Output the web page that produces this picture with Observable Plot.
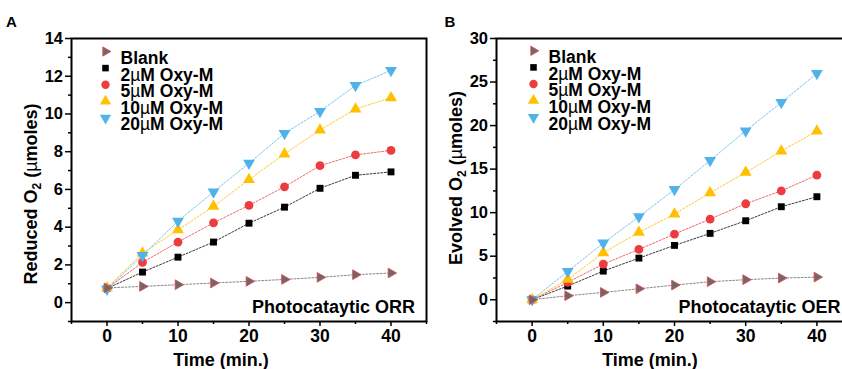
<!DOCTYPE html>
<html>
<head>
<meta charset="utf-8">
<script src="https://cdn.jsdelivr.net/npm/d3@7"></script>
<script src="https://cdn.jsdelivr.net/npm/@observablehq/plot@0.6"></script>
<style>
  body { margin: 0; background: white; }
  #wrap { position: relative; width: 842px; height: 369px; overflow: hidden; background: white; }
  #wrap svg { position: absolute; top: 0; }
</style>
</head>
<body>
<div id="wrap"></div>
<script>
// ---------- data ----------
const time = [0, 5, 10, 15, 20, 25, 30, 35, 40];
const seriesNames = ["Blank", "2µM Oxy-M", "5µM Oxy-M", "10µM Oxy-M", "20µM Oxy-M"];

// Panel A: Photocatalytic ORR, reduced O2 (µmoles)
const orrBlank = [0.78, 0.86, 0.95, 1.04, 1.13, 1.23, 1.34, 1.48, 1.57];
const orr2uM   = [0.75, 1.62, 2.41, 3.21, 4.21, 5.06, 6.06, 6.75, 6.93];
const orr5uM   = [0.75, 2.13, 3.21, 4.23, 5.16, 6.14, 7.26, 7.83, 8.07];
const orr10uM  = [0.78, 2.62, 3.86, 5.10, 6.52, 7.88, 9.15, 10.26, 10.86];
const orr20uM  = [0.72, 2.50, 4.32, 5.87, 7.39, 8.97, 10.14, 11.51, 12.31];

// Panel B: Photocatalytic OER, evolved O2 (µmoles)
const oerBlank = [0, 0.46, 0.84, 1.26, 1.68, 2.07, 2.30, 2.49, 2.60];
const oer2uM   = [0, 1.57, 3.29, 4.78, 6.24, 7.62, 9.07, 10.68, 11.83];
const oer5uM   = [0, 1.99, 4.10, 5.78, 7.54, 9.26, 11.02, 12.51, 14.31];
const oer10uM  = [0, 2.33, 5.40, 7.73, 9.84, 12.28, 14.62, 17.07, 19.37];
const oer20uM  = [0, 3.25, 6.51, 9.53, 12.66, 15.99, 19.40, 22.65, 25.98];

// ticks
const xTicks = [0, 10, 20, 30, 40];
const xMinorTicks = [-5, 5, 15, 25, 35, 45];
const yTicksA = [0, 2, 4, 6, 8, 10, 12, 14];
const yMinorTicksA = [-1, 1, 3, 5, 7, 9, 11, 13];
const yTicksB = [0, 5, 10, 15, 20, 25, 30];
const yMinorTicksB = [-2.5, 2.5, 7.5, 12.5, 17.5, 22.5, 27.5];

// ---------- styles ----------
const FONT = "'Liberation Sans', Arial, Helvetica, sans-serif";
const tri = (angle) => ({
  draw(ctx, size) {
    const s = Math.sqrt(4 * size / Math.sqrt(3));
    const R = s / Math.sqrt(3);
    const pts = [[R, 0], [-R / 2, s / 2], [-R / 2, -s / 2]];
    const a = angle * Math.PI / 180;
    pts.forEach(([x, y], i) => {
      const px = x * Math.cos(a) - y * Math.sin(a);
      const py = x * Math.sin(a) + y * Math.cos(a);
      i ? ctx.lineTo(px, py) : ctx.moveTo(px, py);
    });
    ctx.closePath();
  }
});
const styles = [
  {symbol: tri(0),   fill: "#6a6a6a", stroke: "#e5484d", line: "#8a8a8a", r: 3.6},
  {symbol: "square", fill: "#000000", stroke: "none",    line: "#3a3a3a", r: 3.9},
  {symbol: "circle", fill: "#ee3b3f", stroke: "none",    line: "#f06a6a", r: 4.4},
  {symbol: tri(-90), fill: "#ffc000", stroke: "none",    line: "#ffcb33", r: 4.4},
  {symbol: tri(90),  fill: "#4fb3ea", stroke: "none",    line: "#7cc6ef", r: 4.4}
];

function tidy(arrays) {
  const rows = [];
  arrays.forEach((vals, si) => vals.forEach((v, i) => rows.push({series: si, t: time[i], v})));
  return rows;
}

function makePanel(cfg) {
  const data = tidy(cfg.arrays);
  const marks = [];
  styles.forEach((st, si) => {
    marks.push(Plot.line(data.filter(d => d.series === si), {
      x: "t", y: "v", stroke: st.line, strokeWidth: 1, strokeDasharray: "2,1.6"
    }));
  });
  [1, 2, 3, 4, 0].forEach(si => {
    const st = styles[si];
    marks.push(Plot.dot(data.filter(d => d.series === si), {
      x: "t", y: "v", symbol: st.symbol, r: st.r, fill: st.fill,
      stroke: st.stroke, strokeWidth: st.stroke === "none" ? 0 : 0.9
    }));
  });
  styles.forEach((st, si) => {
    marks.push(Plot.dot([seriesNames[si]], {
      frameAnchor: "top-left", dx: cfg.legendDx, dy: cfg.legendDy + 16.6 * si,
      symbol: st.symbol, r: st.r * 0.95, fill: st.fill,
      stroke: st.stroke, strokeWidth: st.stroke === "none" ? 0 : 0.9
    }));
    marks.push(Plot.text([seriesNames[si]], {
      text: d => d, frameAnchor: "top-left", dx: cfg.legendDx + 15, dy: cfg.legendDy + 16.6 * si,
      textAnchor: "start", fontSize: 17.5, fontWeight: "bold", fill: "black"
    }));
  });
  marks.push(Plot.axisX({ticks: xTicks, tickSize: 5, tickPadding: 3, fontSize: 17.5,
    fontWeight: "bold", label: null, strokeWidth: 1.5, tickFormat: d3.format("d")}));
  marks.push(Plot.axisX({ticks: xMinorTicks, tickSize: 3, text: null, label: null, strokeWidth: 1.5}));
  marks.push(Plot.axisY({ticks: cfg.yTicks, tickSize: 6, tickPadding: 2.5, fontSize: 16.5,
    fontWeight: "bold", label: null, strokeWidth: 1.5, tickFormat: d3.format("d")}));
  marks.push(Plot.axisY({ticks: cfg.yMinorTicks, tickSize: 3, text: null, label: null, strokeWidth: 1.5}));
  marks.push(Plot.frame({stroke: "black", strokeWidth: 2}));

  const svg = Plot.plot({
    width: cfg.width, height: 369,
    marginLeft: cfg.marginLeft, marginRight: cfg.marginRight,
    marginTop: 38, marginBottom: 48,
    style: {fontFamily: FONT, background: "transparent", overflow: "visible", color: "black"},
    x: {domain: [-5, 45]},
    y: {domain: cfg.yDomain},
    marks
  });
  svg.style.left = cfg.left + "px";

  const s = d3.select(svg);
  s.selectAll("text").each(function () {
    const t = this.textContent;
    if (t.includes("µ") && this.childElementCount === 0) {
      const parts = t.split("µ");
      const el = d3.select(this);
      el.text(null);
      el.append("tspan").text(parts[0]);
      el.append("tspan").attr("font-weight", "normal").text("µ");
      el.append("tspan").text(parts[1]);
    }
  });
  s.append("text").attr("x", cfg.letterX).attr("y", 26.7)
    .attr("font-size", 15).attr("font-weight", "bold").attr("font-family", FONT).text(cfg.letter);
  s.append("text").attr("x", cfg.xTitleX).attr("y", 365.5).attr("text-anchor", "middle")
    .attr("font-size", 18).attr("font-weight", "bold").attr("font-family", FONT).text("Time (min.)");
  const yt = s.append("text")
    .attr("transform", `translate(${cfg.yTitleX},${cfg.yTitleY}) rotate(-90)`)
    .attr("text-anchor", "middle").attr("font-size", 18).attr("font-weight", "bold")
    .attr("font-family", FONT);
  yt.append("tspan").text(cfg.yTitle + " O");
  yt.append("tspan").attr("font-size", 12).attr("dy", 4).text("2");
  yt.append("tspan").attr("dy", -4).text(" (");
  yt.append("tspan").attr("font-weight", "normal").text("µ");
  yt.append("tspan").text("moles)");
  s.append("text").attr("x", cfg.noteX).attr("y", 313).attr("text-anchor", "end")
    .attr("font-size", 18).attr("font-weight", "bold").attr("font-family", FONT).text(cfg.note);
  return svg;
}

const wrap = document.getElementById("wrap");
wrap.appendChild(makePanel({
  arrays: [orrBlank, orr2uM, orr5uM, orr10uM, orr20uM],
  width: 430, left: 0, marginLeft: 71, marginRight: 4,
  yDomain: [-1, 14], yTicks: yTicksA, yMinorTicks: yMinorTicksA,
  legendDx: 34, legendDy: 13,
  letter: "A", letterX: 11.5,
  xTitleX: 221, yTitle: "Reduced", yTitleX: 36.5, yTitleY: 194,
  note: "Photocataytic ORR", noteX: 415
}));
wrap.appendChild(makePanel({
  arrays: [oerBlank, oer2uM, oer5uM, oer10uM, oer20uM],
  width: 436, left: 420, marginLeft: 76, marginRight: 4,
  yDomain: [-2.5, 30], yTicks: yTicksB, yMinorTicks: yMinorTicksB,
  legendDx: 37, legendDy: 12.3,
  letter: "B", letterX: 30,
  xTitleX: 230, yTitle: "Evolved", yTitleX: 42.3, yTitleY: 178,
  note: "Photocataytic OER", noteX: 420.6
}));
</script>
</body>
</html>
